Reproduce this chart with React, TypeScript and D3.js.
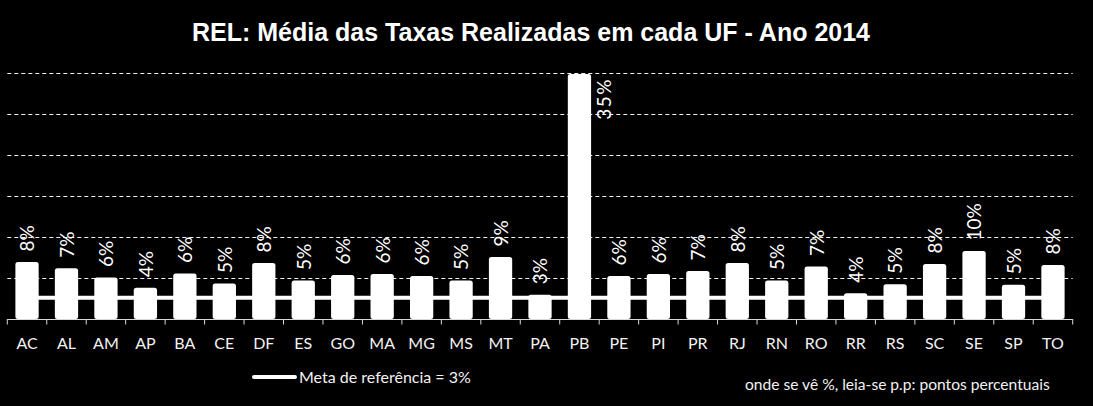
import React from "react";
import * as d3 from "d3";

const categories = ["AC","AL","AM","AP","BA","CE","DF","ES","GO","MA","MG","MS","MT","PA","PB","PE","PI","PR","RJ","RN","RO","RR","RS","SC","SE","SP","TO"];
const values = [0.081,0.072,0.059,0.0445,0.0645,0.0505,0.0795,0.0545,0.0625,0.064,0.061,0.0545,0.088,0.0345,0.348,0.061,0.064,0.068,0.0795,0.0545,0.0745,0.0365,0.0495,0.078,0.0965,0.0485,0.0765];
const metaValue = 0.03;
const yMax = 0.35;
const gridTicks = [1, 2, 3, 4, 5, 6].map((i) => (yMax * i) / 6);
const title = "REL: Média das Taxas Realizadas em cada UF - Ano 2014";
const legendLabel = "Meta de referência = 3%";
const footnote = "onde se vê %, leia-se p.p: pontos percentuais";

const W = 1093, H = 406;
const X0 = 7.3, X1 = 1072.7, Y0 = 72.5, Y1 = 319;
const sans = "Lato, 'Open Sans', sans-serif";

export default function App() {
  const x = d3.scaleBand<string>().domain(categories).range([X0, X1]).paddingInner(0.41).paddingOuter(0.205);
  const y = d3.scaleLinear().domain([0, yMax]).range([Y1, Y0]);
  const step = x.step();
  const bw = x.bandwidth();
  const metaY = y(metaValue);
  const first = (x(categories[0]) ?? 0) + bw / 2;
  const last = (x(categories[categories.length - 1]) ?? 0) + bw / 2;
  const fmt = (v: number) => Math.round(v * 100) + "%";
  const line = d3.line<[number, number]>();

  return (
    <svg width={W} height={H} style={{ position: "absolute", left: 0, top: 0, background: "#000" }}>
      <rect x={0} y={0} width={W} height={H} fill="#000" />
      <text x={531} y={41} textAnchor="middle" fill="#fff" fontFamily="'Liberation Sans', Arial, sans-serif" fontWeight="bold" fontSize={25}>{title}</text>
      {gridTicks.map((t, i) => (
        <line key={i} x1={X0} x2={X1} y1={Math.round(y(t)) + 0.5} y2={Math.round(y(t)) + 0.5} stroke="#f2f2f2" strokeWidth={1} strokeDasharray="4,3" />
      ))}
      <path d={line([[first, metaY], [last, metaY]]) ?? ""} stroke="#fff" strokeWidth={4} fill="none" />
      {categories.map((c, i) => {
        const bx = x(c) ?? 0;
        const top = y(values[i]);
        return <rect key={c} x={bx} y={top} width={bw} height={Y1 - top} rx={2.5} ry={2.5} fill="#fff" />;
      })}
      <rect x={0} y={Y1} width={W} height={3} fill="#000" />
      <line x1={X0} x2={X1} y1={Y1 + 0.5} y2={Y1 + 0.5} stroke="#d9d9d9" strokeWidth={1} />
      {d3.range(categories.length + 1).map((i) => (
        <line key={i} x1={X0 + i * step} x2={X0 + i * step} y1={Y1} y2={Y1 + 5.5} stroke="#d9d9d9" strokeWidth={1} />
      ))}
      {categories.map((c) => (
        <text key={c} x={(x(c) ?? 0) + bw / 2} y={349} textAnchor="middle" fill="#f2f2f2" fontFamily={sans} fontSize={16}>{c}</text>
      ))}
      {categories.map((c, i) => {
        const cx = (x(c) ?? 0) + bw / 2;
        const top = y(values[i]);
        const label = fmt(values[i]);
        if (top - 50 < Y0) {
          const lx = (x(c) ?? 0) + bw + 13;
          return (
            <text key={c} transform={`translate(${lx},${top + 4}) rotate(-90)`} textAnchor="end" dy="0.36em" fill="#fff" fontFamily={sans} fontSize={19} letterSpacing={1.5}>{label}</text>
          );
        }
        return (
          <text key={c} transform={`translate(${cx + 0.5},${top - 10.5}) rotate(-90)`} textAnchor="start" dy="0.36em" fill="#fff" fontFamily={sans} fontSize={19}>{label}</text>
        );
      })}
      <line x1={254} x2={295} y1={377} y2={377} stroke="#fff" strokeWidth={4} strokeLinecap="round" />
      <text x={299} y={382.5} fill="#f2f2f2" fontFamily={sans} fontSize={16}>{legendLabel}</text>
      <text x={745} y={390} fill="#f2f2f2" fontFamily={sans} fontSize={15.6}>{footnote}</text>
    </svg>
  );
}
